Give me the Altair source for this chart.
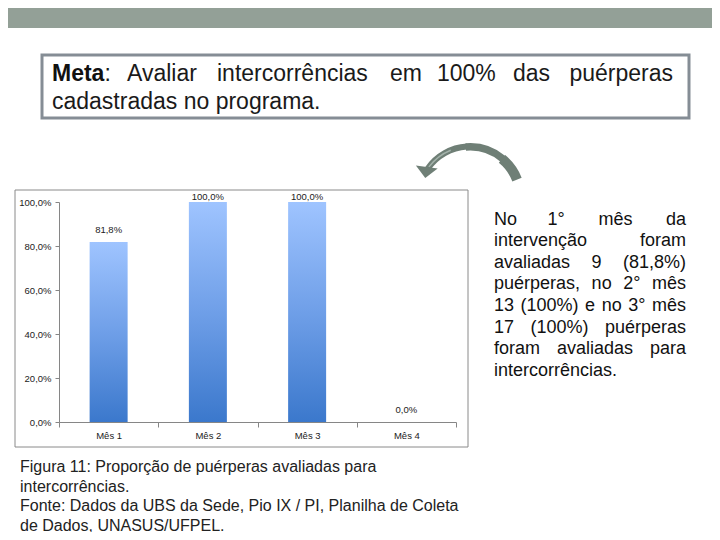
import altair as alt
import pandas as pd

# ---------------- data ----------------
meses = ["Mês 1", "Mês 2", "Mês 3", "Mês 4"]
proporcao = [81.8, 100.0, 100.0, 0.0]
y_ticks = [0, 20, 40, 60, 80, 100]

meta_bold = "Meta"
meta_l1 = ["Avaliar", "intercorrências", "em", "100%", "das", "puérperas"]
meta_l1_x = [127, 217, 390, 437, 513]          # left edges (page px), last word right-aligned
meta_l2 = "cadastradas no programa."

texto_lateral = [
    "No 1° mês da",
    "intervenção foram",
    "avaliadas 9 (81,8%)",
    "puérperas, no 2° mês",
    "13 (100%) e no 3° mês",
    "17 (100%) puérperas",
    "foram avaliadas para",
    "intercorrências.",
]

legenda = [
    "Figura 11: Proporção de puérperas avaliadas para",
    "intercorrências.",
    "Fonte: Dados da UBS da Sede, Pio IX / PI, Planilha de Coleta",
    "de Dados, UNASUS/UFPEL.",
]

# ---------------- layout helpers ----------------
OX, OY = 59, 202          # page position of the plot origin
W, H = 397, 220           # plot area
FONT = "Liberation Sans"

ARIAL = {' ': 278, '%': 889, '(': 333, ')': 333, ',': 278, '.': 278, ':': 278, '/': 278,
         '°': 400, 'ã': 556, 'ç': 500, 'ê': 556, 'é': 556,
         'a': 556, 'b': 556, 'c': 500, 'd': 556, 'e': 556, 'f': 278, 'g': 556, 'h': 556,
         'i': 222, 'j': 222, 'k': 500, 'l': 222, 'm': 833, 'n': 556, 'o': 556, 'p': 556,
         'q': 556, 'r': 333, 's': 500, 't': 278, 'u': 556, 'v': 500, 'w': 722, 'x': 500,
         'y': 500, 'z': 500, 'M': 833}
for d in "0123456789":
    ARIAL[d] = 556
ARIAL_BOLD = {'M': 833, 'e': 556, 't': 333, 'a': 556}


def tw(s, fs, bold=False):
    tab = ARIAL_BOLD if bold else ARIAL
    return sum(tab.get(c, 556) for c in s) * fs / 1000.0


one = pd.DataFrame({"k": [0]})


def text_layers(rows, align, fs, color, weight="normal"):
    out = []
    for t, px, py in rows:
        out.append(
            alt.Chart(one).mark_text(
                text=t, align=align, baseline="alphabetic", font=FONT, fontSize=fs,
                color=color, fontWeight=weight
            ).encode(x=alt.value(px - OX), y=alt.value(py - OY))
        )
    return out


def rect(x1, y1, x2, y2, **kw):
    return alt.Chart(one).mark_rect(**kw).encode(
        x=alt.value(x1 - OX), x2=alt.value(x2 - OX),
        y=alt.value(y1 - OY), y2=alt.value(y2 - OY),
    )


# ---------------- slide decorations ----------------
header = rect(-20, -20, 740, 28, color="#93a097")
meta_box = rect(42, 55, 689, 118, fill="white", fillOpacity=0, stroke="#858d95", strokeWidth=3)
chart_box = rect(15, 190, 468, 447, fill="white", fillOpacity=0, stroke="#8a8a8a", strokeWidth=1)

# Meta text
META_FS = 23
meta_left = [(w, x, 81) for w, x in zip(meta_l1[:-1], meta_l1_x)]
meta_left += [(":", 52 + tw(meta_bold, META_FS, True), 81)]
meta_left += [(meta_l2, 52, 109)]
texts = []
texts += text_layers([(meta_bold, 52, 81)], "left", META_FS, "#111111", "bold")
texts += text_layers(meta_left, "left", META_FS, "#1a1a1a")
texts += text_layers([(meta_l1[-1], 673, 81)], "right", META_FS, "#1a1a1a")

# Side text (justified)
SFS, SL, SR, SB0, SSTEP = 18, 494, 686, 224.5, 21.6
side_left, side_right = [], []
for i, line in enumerate(texto_lateral):
    base = SB0 + i * SSTEP
    words = line.split(" ")
    if i == len(texto_lateral) - 1:
        side_left.append((line, SL, base))
        continue
    widths = [tw(w, SFS) for w in words]
    gap = (SR - SL - sum(widths)) / (len(words) - 1)
    x = SL
    for w, wd in zip(words[:-1], widths[:-1]):
        side_left.append((w, x, base))
        x += wd + gap
    side_right.append((words[-1], SR, base))
texts += text_layers(side_left, "left", SFS, "#111111")
texts += text_layers(side_right, "right", SFS, "#111111")

# Caption
cap_rows = [(t, 20, b) for t, b in zip(legenda, [472, 491.5, 511, 530.5])]
texts += text_layers(cap_rows, "left", 16, "#222222")

# Curved arrow (tapering arc + flat arrow head)
ACX, ACY = 470 - OX, 198 - OY
ARROW = "#6f7f76"
arc_segments = [
    (5.32, 6.22, 54.5, 48.5),
    (6.20, 6.99, 55.0, 47.5),
    (6.97, 7.48, 55.5, 45.5),
]
arrow_layers = [
    alt.Chart(one).mark_arc(theta=t1, theta2=t2, radius=r1, radius2=r2, color=ARROW)
    .encode(x=alt.value(ACX), y=alt.value(ACY))
    for t1, t2, r1, r2 in arc_segments
]
arrow_layers.append(
    alt.Chart(one).mark_arc(theta=5.36, theta2=5.9, radius=52.3, radius2=50.8, color="#a3b2aa")
    .encode(x=alt.value(ACX), y=alt.value(ACY))
)
arrow_layers.append(
    alt.Chart(one).mark_point(
        shape="M -1 -0.5 L 1 -0.5 L 0 0.5 Z", filled=True, size=484, angle=8,
        color=ARROW, opacity=1
    ).encode(x=alt.value(426 - OX), y=alt.value(172.5 - OY))
)

# ---------------- bar chart ----------------
df = pd.DataFrame({"mes": meses, "v": proporcao})
pct = "replace(format(datum.value, '.1f'), '.', ',') + '%'"

gradient = {
    "gradient": "linear", "x1": 0, "x2": 0, "y1": 0, "y2": 1,
    "stops": [
        {"offset": 0, "color": "#9fc4ff"},
        {"offset": 0.5, "color": "#6f9fe8"},
        {"offset": 1, "color": "#3b78cc"},
    ],
}

xenc = alt.X(
    "mes:N", sort=meses, title=None,
    scale=alt.Scale(paddingInner=0, paddingOuter=0),
    axis=alt.Axis(labelAngle=0, tickBand="extent", tickSize=5, labelPadding=3,
                  domainColor="#868686", tickColor="#868686", labelColor="#222222",
                  labelFont=FONT, labelFontSize=9.5),
)
yenc = alt.Y("v:Q", scale=alt.Scale(domain=[0, 100]), title=None,
             axis=alt.Axis(values=y_ticks, labelExpr=pct, grid=False, tickSize=4,
                           labelPadding=4, domainColor="#868686", tickColor="#868686",
                           labelColor="#222222", labelFont=FONT, labelFontSize=9.5))

bars = alt.Chart(df).mark_bar(size=38, color=gradient).encode(x=xenc, y=yenc)
labels = alt.Chart(df).transform_calculate(
    lab="replace(format(datum.v, '.1f'), '.', ',') + '%'",
    ly="min(datum.v + 5.5, 102.3)",
).mark_text(baseline="middle", font=FONT, fontSize=9.5, color="#222222").encode(
    x=alt.X("mes:N", sort=meses),
    y=alt.Y("ly:Q"),
    text="lab:N",
)

chart = alt.layer(
    header, meta_box, chart_box, bars, labels,
    *texts,
    *arrow_layers,
).properties(
    width=W, height=H,
    autosize=alt.AutoSizeParams(type="none"),
    padding={"left": OX - 8, "top": OY - 8, "right": 704 - (OX - 8) - W, "bottom": 524 - (OY - 8) - H},
).configure_view(strokeWidth=0)

chart.save("out.html", embed_options={"renderer": "svg", "actions": False})
